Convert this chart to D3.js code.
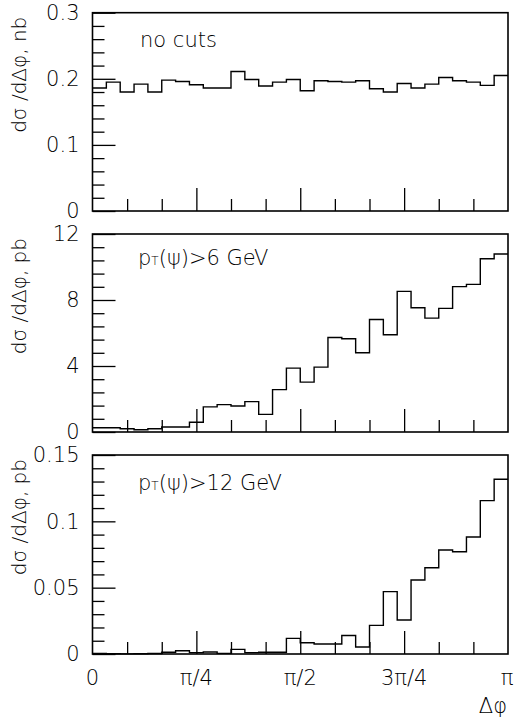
<!DOCTYPE html>
<html><head><meta charset="utf-8">
<script src="https://cdn.jsdelivr.net/npm/d3@7"></script>
<style>
body{margin:0;background:#fff}
text{font-family:"DejaVu Sans","Liberation Sans",sans-serif;font-weight:200;fill:#000}
</style>
</head><body>
<svg id="c" width="516" height="719"></svg>
<script>
// ---- data (30 bins over 0..pi) ----
const noCuts = [0.186,0.195,0.180,0.192,0.180,0.198,0.196,0.191,0.186,0.186,
                0.211,0.199,0.189,0.195,0.199,0.182,0.197,0.196,0.195,0.197,
                0.185,0.180,0.193,0.186,0.192,0.202,0.197,0.195,0.190,0.205];
const pt6 = [0.26,0.26,0.20,0.14,0.20,0.30,0.30,0.59,1.52,1.66,
             1.58,1.84,1.07,2.57,3.87,3.02,3.93,5.73,5.65,4.80,
             6.82,5.89,8.52,7.53,6.90,7.49,8.81,8.95,10.50,10.79];
const pt12 = [0.0004,0.0002,0.0001,0.0002,0.0004,0.0013,0.0025,0.0010,0.0015,0.0005,
              0.0035,0.0010,0.0013,0.0013,0.0118,0.0085,0.0075,0.0075,0.0140,0.0053,
              0.0216,0.0470,0.0256,0.0558,0.0650,0.0784,0.0771,0.0882,0.1156,0.1317];
const yTicksA = [0,0.1,0.2,0.3];     const yLabelsA = ["0","0.1","0.2","0.3"];
const yTicksB = [0,4,8,12];          const yLabelsB = ["0","4","8","12"];
const yTicksC = [0,0.05,0.1,0.15];   const yLabelsC = ["0","0.05","0.1","0.15"];
const xTicks = [0,Math.PI/4,Math.PI/2,3*Math.PI/4,Math.PI];
const xLabels = ["0","π/4","π/2","3π/4","π"];
const titles = ["dσ /dΔφ, nb","dσ /dΔφ, pb","dσ /dΔφ, pb"];

const svg = d3.select("#c");
const X0 = 92.5, X1 = 508;
const x = d3.scaleLinear().domain([0,Math.PI]).range([X0,X1]);
const nBins = noCuts.length;
const edges = d3.range(nBins+1).map(i => i*Math.PI/nBins);

const panels = [
  {vals:noCuts, top:12.7, bot:211, ticks:yTicksA, labels:yLabelsA, minor:0.02, title:titles[0], lab:"nocuts", labY:47},
  {vals:pt6,    top:234,  bot:432, ticks:yTicksB, labels:yLabelsB, minor:0.8,  title:titles[1], lab:"6",  labY:265},
  {vals:pt12,   top:455,  bot:654, ticks:yTicksC, labels:yLabelsC, minor:0.01, title:titles[2], lab:"12", labY:490}
];

const FS = 21;
panels.forEach((p,pi) => {
  const yMax = p.ticks[p.ticks.length-1];
  const y = d3.scaleLinear().domain([0,yMax]).range([p.bot,p.top]);
  const g = svg.append("g");

  // minor y ticks
  const minors = d3.range(0, yMax + p.minor/2, p.minor).filter(v => !p.ticks.some(t => Math.abs(t-v) < p.minor/10));
  g.append("g").attr("transform",`translate(${X0},0)`)
    .call(d3.axisLeft(y).tickValues(minors).tickSize(-12).tickFormat(""))
    .call(a => a.select(".domain").remove())
    .selectAll("line").attr("stroke","#000").attr("stroke-width",1.3);
  // major y ticks + labels
  g.append("g").attr("transform",`translate(${X0},0)`)
    .call(d3.axisLeft(y).tickValues(p.ticks).tickSize(-23).tickPadding(13).tickFormat((d,i)=>p.labels[i]))
    .call(a => a.select(".domain").remove())
    .call(a => a.selectAll("line").attr("stroke","#000").attr("stroke-width",1.3))
    .selectAll("text").attr("font-size",FS).attr("font-family",null).attr("fill","#000");

  // x ticks (minor every pi/12, major every pi/4)
  g.append("g").attr("transform",`translate(0,${p.bot})`)
    .call(d3.axisBottom(x).tickValues(d3.range(1,12).filter(i=>i%3).map(i=>i*Math.PI/12)).tickSize(-12).tickFormat(""))
    .call(a => a.select(".domain").remove())
    .selectAll("line").attr("stroke","#000").attr("stroke-width",1.3);
  g.append("g").attr("transform",`translate(0,${p.bot})`)
    .call(d3.axisBottom(x).tickValues(xTicks.slice(1,4)).tickSize(-23).tickFormat(""))
    .call(a => a.select(".domain").remove())
    .selectAll("line").attr("stroke","#000").attr("stroke-width",1.3);

  // histogram
  const pts = p.vals.map((v,i)=>[edges[i],v]).concat([[edges[nBins],p.vals[nBins-1]]]);
  g.append("path")
    .attr("d", d3.line().x(d=>x(d[0])).y(d=>y(d[1])).curve(d3.curveStepAfter)(pts))
    .attr("fill","none").attr("stroke","#000").attr("stroke-width",1.4);

  // frame
  g.append("rect").attr("x",X0).attr("y",p.top).attr("width",X1-X0).attr("height",p.bot-p.top)
    .attr("fill","none").attr("stroke","#000").attr("stroke-width",1.6);

  // y title
  g.append("text").attr("transform",`translate(26,${p.top+4}) rotate(-90)`)
    .attr("text-anchor","end").attr("font-size",20).text(p.title);

  // panel label
  const t = g.append("text").attr("x",138).attr("y",p.labY).attr("font-size",FS);
  if (p.lab === "nocuts") {
    t.attr("x",140).text("no cuts");
  } else {
    t.append("tspan").text("p");
    t.append("tspan").attr("font-size",12).text("T");
    t.append("tspan").text("(ψ)>" + p.lab + " GeV");
  }
});

// x tick labels under bottom panel
svg.append("g").selectAll("text").data(xTicks).join("text")
  .attr("x",(d,i)=>x(d) + (i===4?-1:0)).attr("y",685)
  .attr("text-anchor","middle").attr("font-size",FS)
  .text((d,i)=>xLabels[i]);
svg.append("text").attr("x",507).attr("y",713).attr("text-anchor","end")
  .attr("font-size",FS).text("Δφ");
</script>
</body></html>
